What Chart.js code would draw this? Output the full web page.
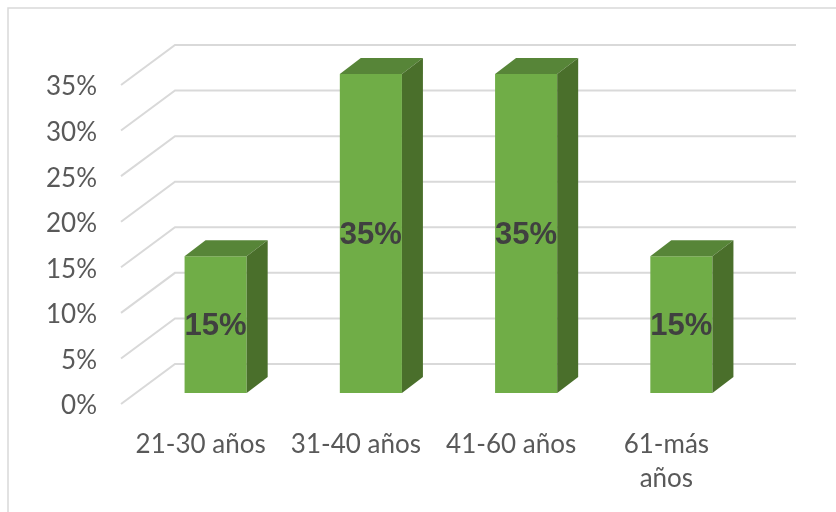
<!DOCTYPE html>
<html>
<head>
<meta charset="utf-8">
<script src="https://cdn.jsdelivr.net/npm/chart.js@4/dist/chart.umd.min.js"></script>
<style>
  body { margin: 0; background: #fff; }
  #wrap { width: 836px; height: 512px; position: relative; }
</style>
</head>
<body>
<div id="wrap"><canvas id="grafico" width="836" height="512"></canvas></div>
<script>
const categorias = ["21-30 años", "31-40 años", "41-60 años", ["61-más", "años"]];
const porcentajes = [15, 35, 35, 15];
const marcasEje = [0, 5, 10, 15, 20, 25, 30, 35];

// profundidad del efecto 3D
const prof = { dx: 21, dy: -16 };        // grosor de cada barra
const frente = { dx: -17, dy: 11 };      // borde frontal del suelo
const fondo = { dx: 37, dy: -29 };       // pared del fondo

const colorFrente = "#70ad47";
const colorTapa = "#578538";
const colorLado = "#4a6f2b";

const fondoYMarco = {
    id: "fondoYMarco",
    beforeDraw(chart) {
        const ctx = chart.ctx;
        ctx.save();
        ctx.fillStyle = "#ffffff";
        ctx.fillRect(0, 0, chart.width, chart.height);
        ctx.strokeStyle = "#d9d9d9";
        ctx.lineWidth = 1.5;
        ctx.strokeRect(8, 8, chart.width + 10, chart.height + 10);
        ctx.restore();
    }
};

const rejilla3D = {
    id: "rejilla3D",
    beforeDatasetsDraw(chart) {
        const ctx = chart.ctx;
        const y = chart.scales.y;
        const area = chart.chartArea;
        ctx.save();
        ctx.strokeStyle = "#d9d9d9";
        ctx.lineWidth = 2;
        marcasEje.forEach(v => {
            const py = y.getPixelForValue(v);
            ctx.beginPath();
            ctx.moveTo(area.left + frente.dx, py + frente.dy);
            ctx.lineTo(area.left + fondo.dx, py + fondo.dy);
            ctx.lineTo(area.right + fondo.dx, py + fondo.dy);
            ctx.stroke();
        });
        ctx.restore();
    }
};

const barras3D = {
    id: "barras3D",
    afterDatasetsDraw(chart) {
        const ctx = chart.ctx;
        const meta = chart.getDatasetMeta(0);
        ctx.save();
        meta.data.forEach((bar, i) => {
            const izq = bar.x - bar.width / 2;
            const der = bar.x + bar.width / 2;
            const arriba = bar.y;
            const base = bar.base;

            // tapa
            ctx.fillStyle = colorTapa;
            ctx.beginPath();
            ctx.moveTo(izq, arriba);
            ctx.lineTo(der, arriba);
            ctx.lineTo(der + prof.dx, arriba + prof.dy);
            ctx.lineTo(izq + prof.dx, arriba + prof.dy);
            ctx.closePath();
            ctx.fill();

            // lateral
            ctx.fillStyle = colorLado;
            ctx.beginPath();
            ctx.moveTo(der, arriba);
            ctx.lineTo(der + prof.dx, arriba + prof.dy);
            ctx.lineTo(der + prof.dx, base + prof.dy);
            ctx.lineTo(der, base);
            ctx.closePath();
            ctx.fill();

            // etiqueta de valor
            ctx.fillStyle = "#404040";
            ctx.font = "bold 31px 'Liberation Sans', Arial, sans-serif";
            ctx.textAlign = "center";
            ctx.textBaseline = "middle";
            ctx.fillText(porcentajes[i] + "%", bar.x, (arriba + base) / 2 + 2);
        });
        ctx.restore();
    }
};

const ctx = document.getElementById("grafico").getContext("2d");
new Chart(ctx, {
    type: "bar",
    data: {
        labels: categorias,
        datasets: [{
            data: porcentajes,
            backgroundColor: colorFrente,
            borderWidth: 0,
            barPercentage: 0.4,
            categoryPercentage: 1
        }]
    },
    options: {
        responsive: false,
        animation: false,
        layout: { padding: { top: 74, right: 77, left: 0, bottom: 0 } },
        plugins: {
            legend: { display: false },
            tooltip: { enabled: false }
        },
        scales: {
            x: {
                grid: { display: false },
                border: { display: false },
                afterFit: (scale) => { scale.height = 119; },
                ticks: {
                    color: "#595959",
                    font: { family: "Lato, 'Liberation Sans', sans-serif", size: 26, lineHeight: 1.3 },
                    padding: 27,
                    labelOffset: -15,
                    maxRotation: 0,
                    autoSkip: false
                }
            },
            y: {
                min: 0,
                max: 35,
                grid: { display: false },
                border: { display: false },
                afterFit: (scale) => { scale.width = 138; },
                ticks: {
                    stepSize: 5,
                    color: "#595959",
                    font: { family: "Lato, 'Liberation Sans', sans-serif", size: 26 },
                    padding: 33,
                    labelOffset: 13,
                    callback: v => v + "%"
                }
            }
        }
    },
    plugins: [fondoYMarco, rejilla3D, barras3D]
});
</script>
</body>
</html>
